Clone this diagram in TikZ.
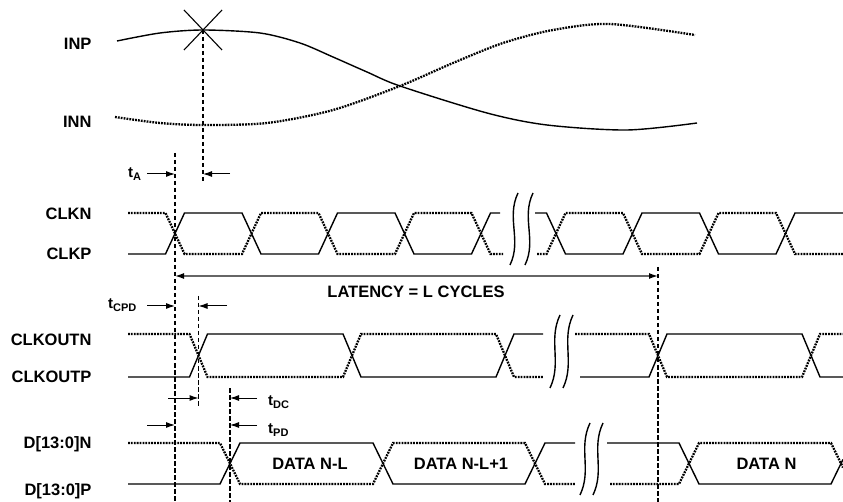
\documentclass[tikz,border=0pt]{standalone}
\usepackage{fontspec}
\setmainfont{Liberation Sans}
\usetikzlibrary{arrows.meta}

\newcommand{\tsig}[1]{{\fontsize{15}{16}\selectfont t}\raisebox{-3pt}{\fontsize{11}{12}\selectfont #1}}

\begin{document}
\begin{tikzpicture}[x=1pt,y=-1pt,font=\bfseries,
					sig/.style={line width=1.4pt},
					sigdot/.style={line width=2.3pt, dash pattern=on 1.8pt off 1.1pt},
					guide/.style={line width=1.2pt, dash pattern=on 4.5pt off 2.5pt},
					tarrow/.style={line width=1pt, -{Latex[length=9pt,width=6pt]}},
					lbl/.style={anchor=base east, font=\fontsize{16.5}{18}\selectfont\bfseries},
					tlbl/.style={anchor=base west, inner sep=0pt, font=\bfseries},
					boxlbl/.style={anchor=base, font=\fontsize{16.5}{18}\selectfont\bfseries}
					]
	\useasboundingbox (0,0) rectangle (843,502);

	%signal names
	\node[lbl] (inp) at (95,50) {INP};
	\node[lbl] (inn) at (95,128) {INN};
	\node[lbl] (clkn) at (95,219.5) {CLKN};
	\node[lbl] (clkp) at (95,260) {CLKP};
	\node[lbl] (cloutn) at (95,345.5) {CLKOUTN};
	\node[lbl] (cloutp) at (95,382) {CLKOUTP};
	\node[lbl] (dn) at (95,448) {D[13:0]N};
	\node[lbl] (dp) at (95,495) {D[13:0]P};

	%Analog input-----------------------------------------------
	\draw[sig] plot[smooth] coordinates {(117,41) (160,33) (203,30) (260,33) (300,43) (333,57) (367,72) (400,86) (487,113) (547,125) (627,130) (697,123)}; %INP
	\draw[sigdot] plot[smooth] coordinates {(115,117) (160,123) (203,125) (267,123) (333,110) (400,86) (453,63) (503,43) (553,30) (610,24) (695,35)}; %INN
	\coordinate (samp) at (203,30); %sample point
	\draw[line width=1.1pt] (184,10) -- (222,50) (222,10) -- (184,50); %X marker

	%guides
	\draw[guide] (samp) -- (203,184); %sample instant
	\draw[guide] (175,153) -- (175,502); %clock edge
	\draw[guide] (198.5,296) -- (198.5,407); %clkout edge
	\draw[guide] (230,388) -- (230,502); %data edge
	\draw[guide] (658,267) -- (658,502); %latency end

	%Clock-----------------------------------------------
	\draw[sig] (128,254) -- (165.5,254) -- (184.5,213) -- (242,213) -- (261,254) -- (318.5,254) -- (337.5,213) -- (395,213) -- (414,254) -- (471.5,254) -- (490.5,213) -- (500,213); %CLKP a
	\draw[sig] (535,213) -- (546.5,213) -- (565.5,254) -- (623,254) -- (642,213) -- (699.5,213) -- (718.5,254) -- (776,254) -- (795,213) -- (843,213); %CLKP b
	\draw[sigdot] (128,213) -- (165.5,213) -- (184.5,254) -- (242,254) -- (261,213) -- (318.5,213) -- (337.5,254) -- (395,254) -- (414,213) -- (471.5,213) -- (490.5,254) -- (503,254); %CLKN a
	\draw[sigdot] (537,254) -- (546.5,254) -- (565.5,213) -- (623,213) -- (642,254) -- (699.5,254) -- (718.5,213) -- (776,213) -- (795,254) -- (843,254); %CLKN b
	\draw[sig] (518,193) .. controls (506,218) and (522,240) .. (510,265); %break 1
	\draw[sig] (533,193) .. controls (521,218) and (537,240) .. (525,265); %break 2

	%Clock out-----------------------------------------------
	\draw[sig] (128,377) -- (189.5,377) -- (207.5,334) -- (343,334) -- (361,377) -- (496,377) -- (514,334) -- (543,334); %CLKOUTP a
	\draw[sig] (580,377) -- (649,377) -- (667,334) -- (802,334) -- (820,377) -- (843,377); %CLKOUTP b
	\draw[sigdot] (128,334) -- (189.5,334) -- (207.5,377) -- (343,377) -- (361,334) -- (496,334) -- (514,377) -- (543,377); %CLKOUTN a
	\draw[sigdot] (575,334) -- (649,334) -- (667,377) -- (802,377) -- (820,334) -- (843,334); %CLKOUTN b
	\draw[sig] (560,315) .. controls (548,340) and (562,363) .. (550,388); %break 1
	\draw[sig] (573,315) .. controls (561,340) and (575,363) .. (563,388); %break 2

	%Data-----------------------------------------------
	\draw[sig] (128,484) -- (220,484) -- (240,443) -- (373,443) -- (393,484) -- (525,484) -- (545,443) -- (575,443); %DP a
	\draw[sig] (607,443) -- (679,443) -- (699,484) -- (831,484) -- (843,459.4); %DP b
	\draw[sigdot] (128,443) -- (220,443) -- (240,484) -- (373,484) -- (393,443) -- (525,443) -- (545,484) -- (575,484); %DN a
	\draw[sigdot] (610,484) -- (679,484) -- (699,443) -- (831,443) -- (843,467.6); %DN b
	\draw[sig] (590,423) .. controls (578,448) and (592,470) .. (580,495); %break 1
	\draw[sig] (603,423) .. controls (591,448) and (605,470) .. (593,495); %break 2
	\node[boxlbl] (dnl) at (310,469) {DATA N-L};
	\node[boxlbl] (dnl1) at (461,469) {DATA N-L+1};
	\node[boxlbl] (dnn) at (766.5,469) {DATA N};

	%timing arrows-----------------------------------------------
	\node[tlbl] (ta) at (128,178) {\tsig{A}};
	\draw[tarrow] (147,174) -- (175,174);
	\draw[tarrow] (230,174) -- (203,174);
	\node[tlbl] (tcpd) at (108,309) {\tsig{CPD}};
	\draw[tarrow] (147,306) -- (175,306);
	\draw[tarrow] (227,306) -- (198.5,306);
	\node[tlbl] (tdc) at (268,405) {\tsig{DC}};
	\draw[tarrow] (168,398) -- (198.5,398);
	\draw[tarrow] (257,398) -- (230,398);
	\node[tlbl] (tpd) at (268,433) {\tsig{PD}};
	\draw[tarrow] (147,425) -- (175,425);
	\draw[tarrow] (257,425) -- (230,425);

	%latency
	\draw[line width=1.4pt, black!60, {Latex[length=9pt,width=6pt,black]}-{Latex[length=9pt,width=6pt,black]}] (175,276) -- (658,276);
	\node[boxlbl] (lat) at (416,298) {LATENCY = L CYCLES};
\end{tikzpicture}
\end{document}
